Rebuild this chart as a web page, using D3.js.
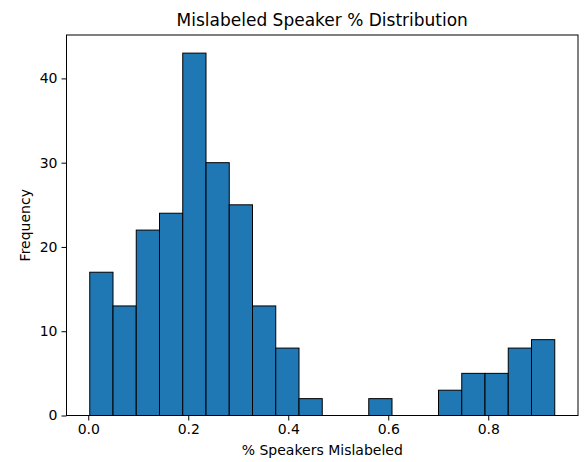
<!DOCTYPE html>
<html><head><meta charset="utf-8">
<script src="https://cdn.jsdelivr.net/npm/d3@7"></script>
<style>body{margin:0;background:#fff}svg{display:block}text{font-family:"DejaVu Sans",sans-serif;fill:#000}</style>
</head><body><svg id="c" width="584" height="462"></svg>
<script>
const binStart = 0.003;
const binEnd = 0.933;
const counts = [17, 13, 22, 24, 43, 30, 25, 13, 8, 2, 0, 0, 2, 0, 0, 3, 5, 5, 8, 9];
const xTicks = [0.0, 0.2, 0.4, 0.6, 0.8];
const yTicks = [0, 10, 20, 30, 40];
const title = "Mislabeled Speaker % Distribution";
const xLabel = "% Speakers Mislabeled";
const yLabel = "Frequency";

const svg = d3.select("#c");
const L = 66.5, R = 578, T = 35, B = 415.5;
const w = (binEnd - binStart) / counts.length;
const bins = counts.map((c, i) => ({x0: binStart + i * w, x1: binStart + (i + 1) * w, c}));
const pad = (binEnd - binStart) * 0.05;
const x = d3.scaleLinear().domain([binStart - pad, binEnd + pad]).range([L, R]);
const y = d3.scaleLinear().domain([0, d3.max(counts) * 1.05]).range([B, T]);

svg.append("g").selectAll("rect").data(bins.filter(d => d.c > 0)).join("rect")
  .attr("x", d => x(d.x0)).attr("width", d => x(d.x1) - x(d.x0))
  .attr("y", d => y(d.c)).attr("height", d => y(0) - y(d.c))
  .attr("fill", "#1f77b4").attr("stroke", "#000").attr("stroke-width", 1);

const fmt = d3.format(".1f");
const gx = svg.append("g").attr("transform", `translate(0,${B})`)
  .call(d3.axisBottom(x).tickValues(xTicks).tickFormat(fmt).tickSize(5).tickPadding(4));
const gy = svg.append("g").attr("transform", `translate(${L},0)`)
  .call(d3.axisLeft(y).tickValues(yTicks).tickSize(5).tickPadding(4));
[gx, gy].forEach(g => {
  g.select(".domain").remove();
  g.selectAll("text").style("font-size", "14px").style("font-family", "DejaVu Sans").attr("fill", "#000");
  g.selectAll("line").attr("stroke", "#000");
});
svg.append("rect").attr("x", L).attr("y", T).attr("width", R - L).attr("height", B - T)
  .attr("fill", "none").attr("stroke", "#000").attr("stroke-width", 1);

svg.append("text").attr("x", (L + R) / 2).attr("y", 26).attr("text-anchor", "middle")
  .style("font-size", "17px").text(title);
svg.append("text").attr("x", (L + R) / 2).attr("y", 455).attr("text-anchor", "middle")
  .style("font-size", "14px").text(xLabel);
svg.append("text").attr("transform", `translate(30,${(T + B) / 2}) rotate(-90)`).attr("text-anchor", "middle")
  .style("font-size", "14px").text(yLabel);
</script></body></html>
